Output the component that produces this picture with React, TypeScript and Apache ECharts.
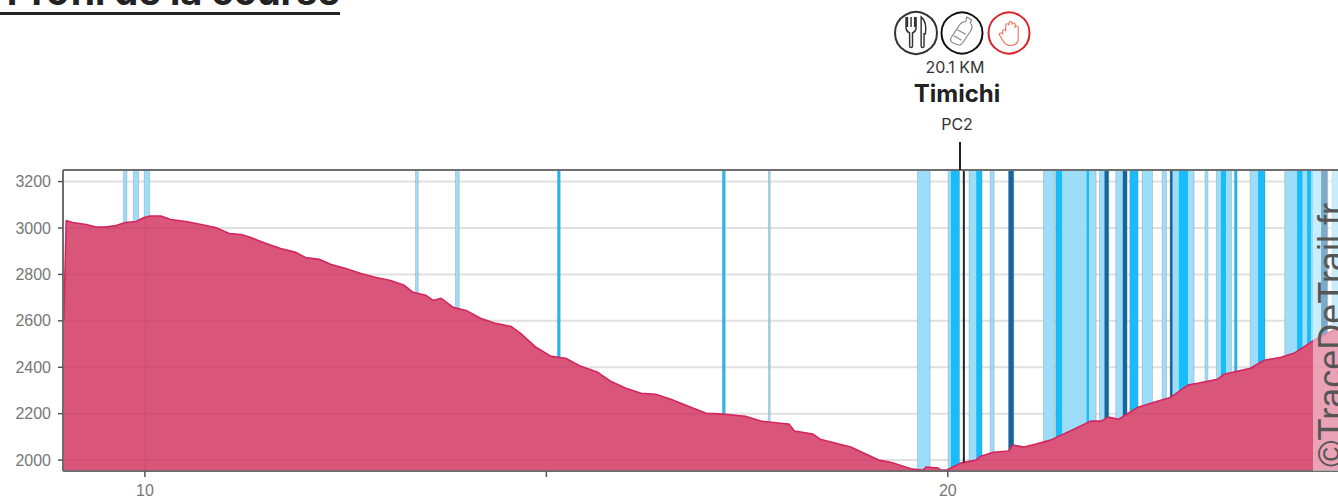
import React, { useEffect, useRef } from "react";
import * as echarts from "echarts";

const profileKm = [8.99,9.02,9.10,9.27,9.39,9.51,9.64,9.76,9.89,9.99,10.07,10.20,10.32,10.51,10.70,10.88,11.05,11.20,11.32,11.51,11.69,11.88,12.00,12.17,12.32,12.50,12.69,12.88,13.06,13.23,13.34,13.50,13.59,13.69,13.84,14.00,14.18,14.37,14.56,14.68,14.87,15.06,15.24,15.43,15.64,15.80,15.99,16.18,16.36,16.55,16.80,16.99,17.20,17.48,17.67,17.92,18.02,18.09,18.32,18.41,18.79,19.14,19.29,19.56,19.69,19.73,19.88,19.91,19.99,20.16,20.35,20.41,20.57,20.76,20.81,20.95,21.10,21.28,21.57,21.78,21.91,22.00,22.13,22.37,22.57,22.78,22.99,23.11,23.36,23.44,23.77,23.94,24.15,24.31,24.56,24.73,24.87];
const profileElevation = [2602,3032,3024,3015,3004,3004,3011,3024,3028,3045,3052,3052,3037,3028,3015,3002,2976,2972,2959,2933,2912,2895,2873,2865,2843,2826,2804,2787,2774,2753,2723,2710,2688,2697,2658,2645,2611,2589,2576,2546,2486,2447,2439,2404,2378,2340,2310,2288,2284,2262,2228,2202,2198,2189,2168,2159,2155,2125,2112,2090,2056,2000,1991,1961,1957,1970,1966,1957,1957,1987,2000,2017,2034,2039,2065,2056,2069,2086,2133,2168,2168,2185,2176,2228,2249,2271,2323,2331,2348,2370,2396,2430,2443,2460,2516,2546,2572];

// slope classes: 0 pale, 1 bright, 2 dark
const bandStart = [9.732,9.857,9.991,13.370,13.868,15.138,17.193,17.766,19.622,20.004,20.037,20.265,20.353,20.527,20.756,21.192,21.345,21.428,21.727,21.760,21.889,21.951,22.092,22.179,22.267,22.420,22.669,22.768,22.802,22.877,22.993,23.204,23.346,23.400,23.466,23.570,23.765,23.864,24.197,24.350,24.421,24.475,24.529,24.649,24.787];
const bandEnd = [9.776,9.922,10.059,13.405,13.915,15.173,17.228,17.788,19.780,20.037,20.146,20.353,20.427,20.577,20.822,21.333,21.428,21.727,21.760,21.847,21.951,22.005,22.179,22.233,22.370,22.549,22.723,22.802,22.877,22.993,23.067,23.241,23.400,23.466,23.533,23.603,23.864,23.951,24.350,24.421,24.475,24.529,24.649,24.732,24.870];
const bandClass = [0,0,0,0,0,1,1,0,0,0,1,0,1,0,2,0,1,0,1,0,0,2,0,2,1,0,0,2,0,1,0,0,0,1,0,1,0,1,0,1,0,1,0,2,0];
const bandColors = ["#9CDEF9", "#18BBFB", "#12659F"];

const yTicks = [2000, 2200, 2400, 2600, 2800, 3000, 3200];
const xTicks = [10, 15, 20];
const xLabels = ["10", "20"];
const stopKm = 20.2;
const stopName = "Timichi";
const stopDistance = "20.1 KM";
const stopCode = "PC2";
const title = "Profil de la course";
const watermark = "©TraceDeTrail.fr";

const Y_MIN = 1953;
const Y_MAX = 3250;
const X_MIN = 8.98;
const X_MAX = 24.86;

const elevationAt = (km: number) => {
  for (let i = 1; i < profileKm.length; i++) {
    if (km <= profileKm[i]) {
      const t = (km - profileKm[i - 1]) / (profileKm[i] - profileKm[i - 1]);
      return profileElevation[i - 1] + t * (profileElevation[i] - profileElevation[i - 1]);
    }
  }
  return profileElevation[profileElevation.length - 1];
};

const FORK = "M8 0 L8 13 M13 0 L13 13 M18 0 L18 13 M6 0 L6 14 C6 19 9 20 11 21 L11 38 C11 41 15 41 15 38 L15 21 C17 20 20 19 20 14 L20 0";
const KNIFE = "M27 0 C33 4 34 14 33 22 L31 22 L31 38 C31 41 27 41 27 38 Z";
const BOTTLE = "M19 0 L25 4 L23 8 C26 11 26 14 24 18 L14 35 C12 38 9 38 6 36 L2 34 C0 32 -1 30 1 27 L11 10 C13 7 16 6 18 6 Z M8 17 L18 23 M4 25 L13 31";
const HAND = "M4 14 C4 11 8 11 8 14 L8 6 C8 3 12 3 12 6 L12 3 C12 0 16 0 16 3 L16 5 C16 2 20 2 20 5 L20 9 C20 6 24 6 24 9 L24 24 C24 30 20 33 14 33 C8 33 6 30 4 26 L0 19 C-1 16 3 15 4 18 Z";
echarts.graphic.registerShape("stopFork", echarts.graphic.extendPath(FORK + " " + KNIFE, {}));
echarts.graphic.registerShape("stopBottle", echarts.graphic.extendPath(BOTTLE, {}));
echarts.graphic.registerShape("stopHand", echarts.graphic.extendPath(HAND, {}));

export default function App() {
  const ref = useRef<HTMLDivElement>(null);
  useEffect(() => {
    document.body.style.margin = "0";
    const chart = echarts.init(ref.current!, null, { renderer: "svg" });
    const sans = "'Liberation Sans', Arial, sans-serif";
    const head = "Inter, 'Noto Sans', sans-serif";
    chart.setOption({
      animation: false,
      grid: { left: 63, right: 0, top: 170, bottom: 26, show: false },
      xAxis: {
        type: "value",
        min: X_MIN,
        max: X_MAX,
        axisLine: { show: false },
        axisTick: { show: false },
        splitLine: { show: false },
        axisLabel: { show: false },
      },
      yAxis: {
        type: "value",
        min: Y_MIN,
        max: Y_MAX,
        axisLine: { show: false },
        axisTick: { show: false },
        axisLabel: { show: false },
        splitLine: { show: false },
      },
      series: [
        {
          // horizontal grid
          type: "custom",
          silent: true,
          z: 1,
          data: yTicks,
          renderItem: (params: any, api: any) => {
            const y = api.coord([9, yTicks[params.dataIndex]])[1];
            const x0 = api.coord([X_MIN, 2000])[0];
            const x1 = api.coord([X_MAX, 2000])[0];
            return { type: "line", shape: { x1: x0, y1: y, x2: x1, y2: y }, style: { stroke: "#E0E0E0", lineWidth: 2 } };
          },
        },
        {
          type: "custom",
          silent: true,
          z: 2,
          clip: true,
          data: bandStart.map((s, i) => [s, bandEnd[i], bandClass[i]]),
          renderItem: (params: any, api: any) => {
            const i = params.dataIndex;
            const s = bandStart[i];
            const e = bandEnd[i];
            const top = api.coord([s, Y_MAX])[1];
            const kms = [s, ...profileKm.filter((k) => k > s && k < e), e];
            const lower = kms.map((k) => api.coord([k, elevationAt(k)]));
            const pts = [[lower[0][0], top], ...lower, [lower[lower.length - 1][0], top]];
            const children: any[] = [
              { type: "polygon", shape: { points: pts }, style: { fill: bandColors[bandClass[i]] } },
            ];
            const edge = "rgba(120,120,120,0.3)";
            if (!bandEnd.some((x) => Math.abs(x - s) < 0.002)) {
              children.push({ type: "line", shape: { x1: lower[0][0], y1: top, x2: lower[0][0], y2: lower[0][1] }, style: { stroke: edge, lineWidth: 1 } });
            }
            if (!bandStart.some((x) => Math.abs(x - e) < 0.002)) {
              const l = lower[lower.length - 1];
              children.push({ type: "line", shape: { x1: l[0], y1: top, x2: l[0], y2: l[1] }, style: { stroke: edge, lineWidth: 1 } });
            }
            return { type: "group", children };
          },
        },
        {
          type: "line",
          z: 3,
          silent: true,
          symbol: "none",
          data: profileKm.map((k, i) => [k, profileElevation[i]]),
          lineStyle: { color: "#D3255E", width: 1.6 },
          areaStyle: { color: "#CF2C59", opacity: 0.8, origin: "start" },
          markLine: {
            silent: true,
            symbol: "none",
            label: { show: false },
            lineStyle: { color: "rgba(90,40,50,0.15)", width: 1, type: "solid" },
            data: [[{ coord: [10, Y_MIN] }, { coord: [10, elevationAt(10)] }]],
          },
        },
        {
          type: "line",
          z: 4,
          silent: true,
          symbol: "none",
          data: [[stopKm, elevationAt(stopKm)], [stopKm, Y_MAX]],
          lineStyle: { color: "#222222", width: 2 },
        },
        {
          // plot frame and ticks
          type: "custom",
          z: 6,
          silent: true,
          clip: false,
          data: [0],
          renderItem: (_p: any, api: any) => {
            const [x0, y0] = api.coord([X_MIN, Y_MIN]);
            const [x1, y1] = api.coord([X_MAX, Y_MAX]);
            const frame = { stroke: "#6E6E6E", lineWidth: 2 };
            const tick = { stroke: "#555", lineWidth: 1.5 };
            const children: any[] = [
              { type: "line", shape: { x1: x0, y1: y0, x2: x1, y2: y0 }, style: frame },
              { type: "line", shape: { x1: x0, y1: y1, x2: x1, y2: y1 }, style: frame },
              { type: "line", shape: { x1: x0, y1: y0, x2: x0, y2: y1 }, style: frame },
            ];
            yTicks.forEach((v) => {
              const y = api.coord([9, v])[1];
              children.push({ type: "line", shape: { x1: x0 - 5, y1: y, x2: x0, y2: y }, style: tick });
              children.push({ type: "text", x: x0 - 12, y, style: { text: String(v), align: "right", verticalAlign: "middle", font: `16px ${sans}`, fill: "#777" } });
            });
            xTicks.forEach((k) => {
              const x = api.coord([k, 2000])[0];
              children.push({ type: "line", shape: { x1: x, y1: y0, x2: x, y2: y0 + 6 }, style: tick });
            });
            xLabels.forEach((t) => {
              const x = api.coord([Number(t), 2000])[0];
              children.push({ type: "text", x, y: y0 + 19, style: { text: t, align: "center", verticalAlign: "middle", font: `16px ${sans}`, fill: "#777" } });
            });
            return { type: "group", children };
          },
        },
      ],
      graphic: [
        { type: "text", z: 10, x: 340, y: 10, style: { text: title, align: "right", verticalAlign: "bottom", font: `bold 38px ${head}`, fill: "#222" } },
        { type: "rect", z: 10, shape: { x: 0, y: 12, width: 340, height: 3 }, style: { fill: "#222" } },
        { type: "line", z: 10, shape: { x1: 960, y1: 142, x2: 960, y2: 170 }, style: { stroke: "#222", lineWidth: 2 } },
        { type: "circle", z: 10, shape: { cx: 916, cy: 33, r: 21 }, style: { fill: "#fff", stroke: "#333", lineWidth: 2 } },
        { type: "circle", z: 10, shape: { cx: 962, cy: 33, r: 20.5 }, style: { fill: "#fff", stroke: "#111", lineWidth: 2 } },
        { type: "circle", z: 10, shape: { cx: 1009, cy: 33, r: 20.5 }, style: { fill: "#fff", stroke: "#D8232A", lineWidth: 2 } },
        { type: "stopFork", z: 11, x: 901.7, y: 17, scaleX: 0.72, scaleY: 0.76, style: { fill: "none", stroke: "#333", lineWidth: 2 } },
        { type: "stopBottle", z: 11, x: 950.5, y: 17, scaleX: 0.85, scaleY: 0.75, style: { fill: "none", stroke: "#888", lineWidth: 1.4 } },
        { type: "stopHand", z: 11, x: 999.5, y: 21, scaleX: 0.78, scaleY: 0.74, style: { fill: "none", stroke: "#EE7052", lineWidth: 1.4 } },
        { type: "text", z: 10, x: 955, y: 67, style: { text: stopDistance, align: "center", verticalAlign: "middle", font: `16px ${head}`, fill: "#333" } },
        { type: "text", z: 10, x: 957, y: 93, style: { text: stopName, align: "center", verticalAlign: "middle", font: `bold 24px ${head}`, fill: "#222" } },
        { type: "text", z: 10, x: 957, y: 124, style: { text: stopCode, align: "center", verticalAlign: "middle", font: `16px ${head}`, fill: "#333" } },
        { type: "rect", z: 12, shape: { x: 1313, y: 171, width: 25, height: 300 }, style: { fill: "rgba(255,255,255,0.45)" } },
        { type: "text", z: 13, x: 1331, y: 467, rotation: Math.PI / 2, style: { text: watermark, align: "left", verticalAlign: "middle", font: `36px ${sans}`, fill: "#555" } },
      ],
    });
    return () => chart.dispose();
  }, []);
  return <div ref={ref} style={{ position: "absolute", left: 0, top: 0, width: 1338, height: 497, overflow: "hidden" }} />;
}
